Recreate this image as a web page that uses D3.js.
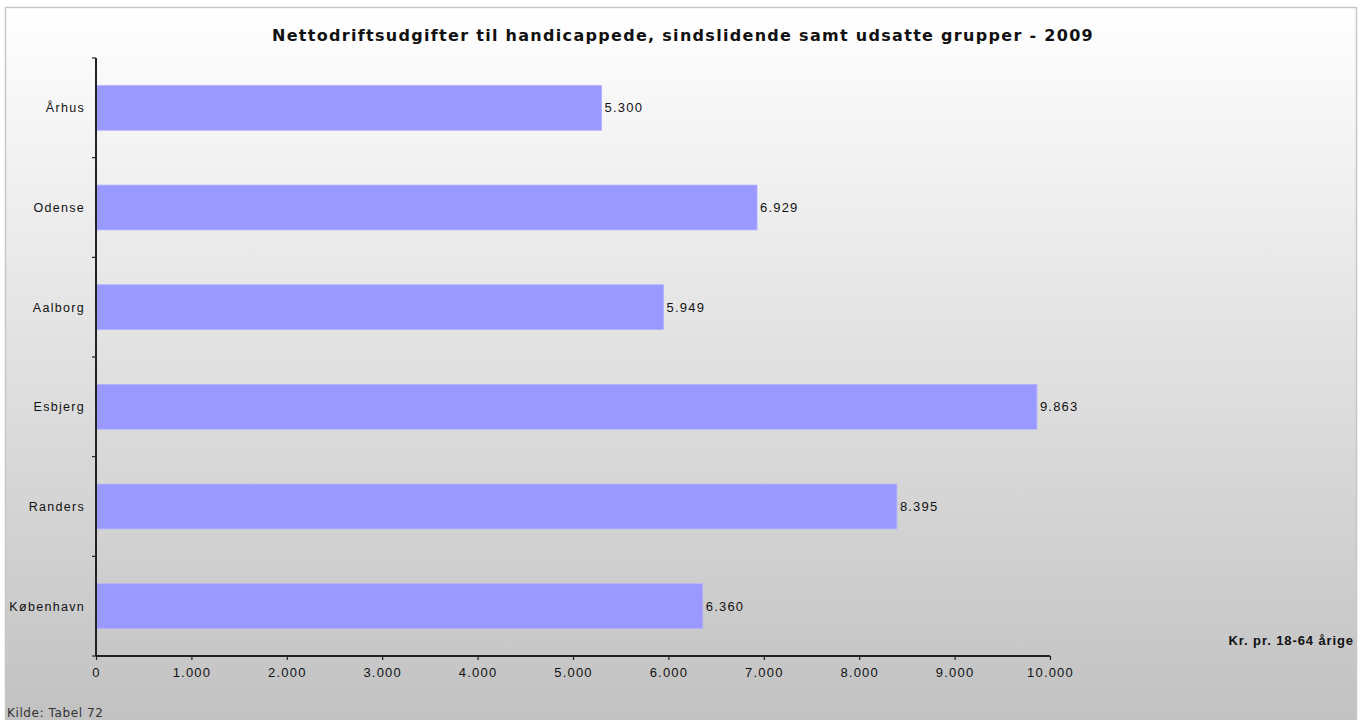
<!DOCTYPE html>
<html lang="da">
<head>
<meta charset="UTF-8">
<title>Nettodriftsudgifter 2009</title>
<script src="https://d3js.org/d3.v7.min.js"></script>
<style>
    body { margin: 0; background: #fff; }
    svg text { font-family: "Liberation Sans", Arial, sans-serif; fill: #111; }
    .title { font-family: "DejaVu Sans", Verdana, sans-serif; font-weight: bold; font-size: 16px; letter-spacing: 1.3px; }
    .cat { font-size: 12.5px; letter-spacing: 1.3px; }
    .val { font-size: 13px; letter-spacing: 1.2px; }
</style>
</head>
<body>
<svg id="chart"></svg>
<script>
    // data
    const cities = ["Århus", "Odense", "Aalborg", "Esbjerg", "Randers", "København"];
    const amounts = [5300, 6929, 5949, 9863, 8395, 6360];
    const xTicks = [0, 1000, 2000, 3000, 4000, 5000, 6000, 7000, 8000, 9000, 10000];
    const titleText = "Nettodriftsudgifter til handicappede, sindslidende samt udsatte grupper - 2009";
    const unitText = "Kr. pr. 18-64 årige";
    const sourceText = "Kilde: Tabel 72";

    const width = 1365, height = 720;
    const svg = d3.select("#chart").attr("width", width).attr("height", height);

    // background panel with vertical gradient
    const grad = svg.append("defs").append("linearGradient")
        .attr("id", "bg").attr("x1", 0).attr("y1", 0).attr("x2", 0).attr("y2", 1);
    grad.append("stop").attr("offset", "0%").attr("stop-color", "#ffffff");
    grad.append("stop").attr("offset", "100%").attr("stop-color", "#c1c1c1");

    svg.append("rect")
        .attr("x", 5.5).attr("y", 7.5)
        .attr("width", 1351).attr("height", 720)
        .attr("fill", "url(#bg)")
        .attr("stroke", "#c6c6c6").attr("stroke-width", 1.5);

    const fmt = d3.formatLocale({decimal: ",", thousands: ".", grouping: [3], currency: ["", " kr."]}).format(",d");

    const x = d3.scaleLinear().domain([0, 10000]).range([96, 1050]);
    const y = d3.scaleBand().domain(cities).range([58, 656]).paddingInner(0.55).paddingOuter(0.275);

    // bars
    svg.append("g").selectAll("rect")
        .data(amounts)
        .join("rect")
        .attr("x", x(0))
        .attr("y", (d, i) => y(cities[i]))
        .attr("width", d => x(d) - x(0))
        .attr("height", y.bandwidth())
        .attr("fill", "#9999ff")
        .attr("stroke", "#b3b3ff").attr("stroke-width", 0.8);

    // value labels
    svg.append("g").selectAll("text")
        .data(amounts)
        .join("text")
        .attr("class", "val")
        .attr("x", d => x(d) + 3)
        .attr("y", (d, i) => y(cities[i]) + y.bandwidth() / 2)
        .attr("dy", "0.35em")
        .text(d => fmt(d));

    // y axis line and ticks between categories
    const yAxis = svg.append("g");
    yAxis.append("line")
        .attr("x1", 96).attr("x2", 96).attr("y1", 58).attr("y2", 656)
        .attr("stroke", "#222").attr("stroke-width", 2);
    const step = y.step();
    const bounds = d3.range(cities.length + 1).map(i => 58 + i * step);
    yAxis.selectAll("line.tk")
        .data(bounds)
        .join("line")
        .attr("class", "tk")
        .attr("x1", 92).attr("x2", 96)
        .attr("y1", d => d).attr("y2", d => d)
        .attr("stroke", "#222").attr("stroke-width", 1.2);
    yAxis.selectAll("text")
        .data(cities)
        .join("text")
        .attr("class", "cat")
        .attr("x", 85)
        .attr("y", d => y(d) + y.bandwidth() / 2)
        .attr("dy", "0.35em")
        .attr("text-anchor", "end")
        .text(d => d);

    // x axis
    const xAxis = svg.append("g").attr("transform", "translate(0,656)")
        .call(d3.axisBottom(x).tickValues(xTicks).tickSize(4).tickPadding(8).tickFormat(fmt));
    xAxis.select(".domain").attr("stroke", "#222").attr("stroke-width", 2).attr("d", "M96,0H1050");
    xAxis.selectAll(".tick line").attr("stroke", "#222").attr("stroke-width", 1.2);
    xAxis.selectAll(".tick text")
        .style("font-family", "'Liberation Sans', Arial, sans-serif")
        .style("font-size", "13px").style("letter-spacing", "1.2px")
        .attr("fill", "#111");

    // title, unit, source
    svg.append("text").attr("class", "title")
        .attr("x", 683).attr("y", 41).attr("text-anchor", "middle")
        .text(titleText);
    svg.append("text")
        .attr("x", 1354).attr("y", 645).attr("text-anchor", "end")
        .style("font-size", "13px").style("font-weight", "bold").style("letter-spacing", "0.9px")
        .text(unitText);
    svg.append("text")
        .attr("x", 7).attr("y", 717)
        .style("font-family", "'DejaVu Sans', Verdana, sans-serif")
        .style("font-size", "12px").style("letter-spacing", "0.6px").style("fill", "#333")
        .text(sourceText);
</script>
</body>
</html>
